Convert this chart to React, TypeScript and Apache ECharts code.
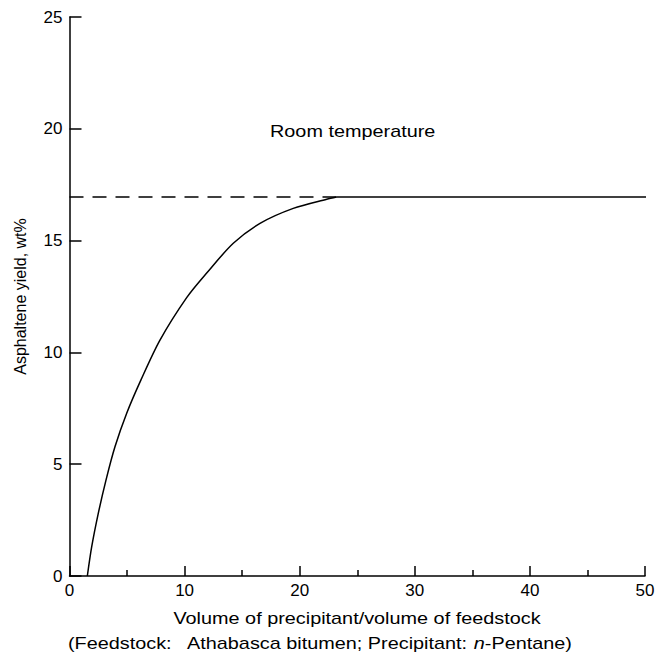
import React, { useEffect, useRef } from "react";
import * as echarts from "echarts";

const curveX = [1.55, 1.93, 2.5, 3.17, 3.95, 4.97, 6.21, 7.86, 10.18, 11.92, 14.23, 16.55, 19.44, 22.35, 23.2];
const curveY = [0, 1.31, 2.8, 4.29, 5.78, 7.28, 8.77, 10.55, 12.45, 13.55, 14.88, 15.77, 16.44, 16.85, 16.95];
const plateauX = [23.2, 51];
const plateauY = [16.95, 16.95];
const dashX = [0, 23.2];
const dashY = [16.95, 16.95];
const xTicks = [0, 10, 20, 30, 40, 50];
const yTicks = [0, 5, 10, 15, 20, 25];

const FONT = "'Liberation Sans', Arial, sans-serif";
const STRETCH = 1.24;

export default function App() {
  const ref = useRef<HTMLDivElement>(null);
  useEffect(() => {
    const chart = echarts.init(ref.current!, null, { renderer: "svg" });
    const axisLine = { lineStyle: { color: "#000", width: 1.5 } };
    chart.setOption({
      animation: false,
      backgroundColor: "#fff",
      grid: { left: 69.5, right: 13, top: 17, bottom: 85 },
      xAxis: {
        type: "value",
        min: xTicks[0],
        max: xTicks[xTicks.length - 1],
        interval: 10,
        axisLine: { ...axisLine, onZero: false },
        axisTick: { inside: true, length: 10, lineStyle: { color: "#000", width: 1.5 } },
        minorTick: { show: true, splitNumber: 2, length: 6, lineStyle: { color: "#000", width: 1.5 } },
        splitLine: { show: false },
        axisLabel: { color: "#000", fontFamily: FONT, fontSize: 17, margin: 6 },
      },
      yAxis: {
        type: "value",
        min: yTicks[0],
        max: yTicks[yTicks.length - 1],
        interval: 5,
        axisLine: { show: true, ...axisLine, onZero: false },
        axisTick: { show: true, inside: true, length: 12, lineStyle: { color: "#000", width: 1.5 } },
        splitLine: { show: false },
        axisLabel: { color: "#000", fontFamily: FONT, fontSize: 17, margin: 7 },
        name: "Asphaltene yield, wt%",
        nameLocation: "middle",
        nameGap: 41,
        nameTextStyle: { color: "#000", fontFamily: FONT, fontSize: 16 },
      },
      graphic: [
        {
          type: "text",
          x: 270,
          y: 132,
          scaleX: STRETCH,
          style: {
            text: "Room temperature",
            fill: "#000",
            font: `16px ${FONT}`,
            align: "left",
            verticalAlign: "middle",
          },
        },
        {
          type: "text",
          x: 357,
          y: 619,
          scaleX: STRETCH,
          style: {
            text: "Volume of precipitant/volume of feedstock",
            fill: "#000",
            font: `16px ${FONT}`,
            align: "center",
            verticalAlign: "middle",
          },
        },
        {
          type: "text",
          x: 68,
          y: 644,
          scaleX: STRETCH,
          style: {
            text: "{a|(Feedstock:   Athabasca bitumen; Precipitant: }{i|n}{a|-Pentane)}",
            align: "left",
            verticalAlign: "middle",
            rich: {
              a: { fill: "#000", fontFamily: FONT, fontSize: 16 },
              i: { fill: "#000", fontFamily: FONT, fontSize: 16, fontStyle: "italic" },
            },
          },
        },
      ],
      series: [
        {
          type: "line",
          data: dashX.map((x, i) => [x, dashY[i]]),
          showSymbol: false,
          lineStyle: { color: "#000", width: 1.5, type: [14, 9] },
        },
        {
          type: "line",
          data: curveX.map((x, i) => [x, curveY[i]]),
          showSymbol: false,
          smooth: 0.3,
          lineStyle: { color: "#000", width: 1.5 },
        },
        {
          type: "line",
          data: plateauX.map((x, i) => [x, plateauY[i]]),
          showSymbol: false,
          clip: false,
          lineStyle: { color: "#000", width: 1.5 },
        },
      ],
    });
    return () => chart.dispose();
  }, []);
  return (
    <div
      ref={ref}
      style={{ position: "absolute", left: 0, top: 0, width: 658, height: 661 }}
    />
  );
}
